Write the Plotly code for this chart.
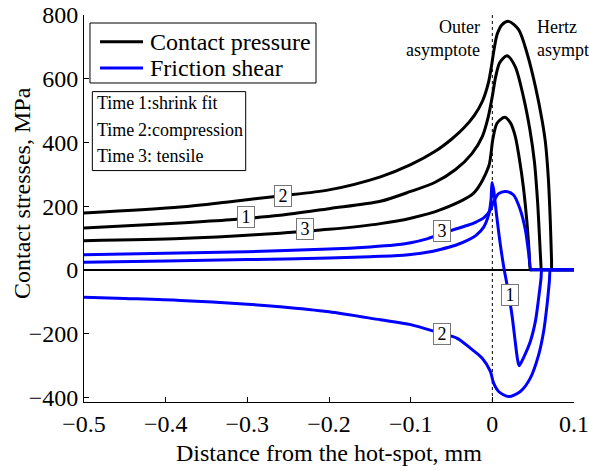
import plotly.graph_objects as go

# ---------------- data ----------------
# Contact pressure (black), MPa
cp2_x = [-0.5, -0.382, -0.321, -0.26, -0.2, -0.137, -0.1, -0.07, -0.05, -0.035, -0.022, -0.012,
         -0.005, -0.001, 0.002, 0.006, 0.012, 0.020, 0.0322, 0.0425, 0.0527, 0.0608, 0.065, 0.0685,
         0.071, 0.0725, 0.073, 0.074, 0.1]
cp2_y = [178, 197, 214, 232, 251, 292, 330, 372, 410, 445, 485, 530,
         585, 640, 690, 740, 770, 780, 754, 680, 576, 471, 400, 290,
         150, 30, 0, 0, 0]

cp1_x = [-0.5, -0.382, -0.321, -0.26, -0.2, -0.137, -0.1, -0.07, -0.045, -0.025, -0.012, -0.005,
         0.0, 0.004, 0.009, 0.018, 0.028, 0.038, 0.046, 0.0515, 0.0555, 0.058, 0.0595, 0.060, 0.061, 0.1]
cp1_y = [131, 147, 157, 171, 192, 215, 246, 275, 315, 365, 420, 480,
         545, 605, 650, 672, 638, 544, 440, 340, 210, 90, 15, 0, 0, 0]

cp3_x = [-0.5, -0.382, -0.321, -0.26, -0.2, -0.137, -0.1, -0.064, -0.0229, -0.0045, 0.0005, 0.0057,
         0.0151, 0.022, 0.028, 0.033, 0.038, 0.042, 0.045, 0.0465, 0.0475, 0.1]
cp3_y = [91, 98, 105, 115, 127, 145, 162, 188, 241, 324, 408, 460,
         479, 462, 420, 350, 260, 160, 60, 0, 0, 0]

# Friction shear (blue), MPa
fs3_x = [-0.5, -0.4, -0.3, -0.2, -0.15, -0.12, -0.1, -0.08, -0.0637, -0.045, -0.03, -0.02,
         -0.0106, -0.0024, 0.0016, 0.0077, 0.016, 0.026, 0.0343, 0.0404, 0.0445, 0.0474, 0.0485, 0.1]
fs3_y = [47, 52, 57, 65, 72, 78, 85, 97, 112, 128, 140, 150,
         163, 188, 214, 239, 246, 235, 188, 126, 52, 0, 0, 0]

fs1_x = [-0.5, -0.4, -0.3, -0.2, -0.15, -0.12, -0.1, -0.08, -0.0637, -0.045, -0.03, -0.02,
         -0.0106, -0.0045, -0.0016, -0.0004, 0.0016, 0.0049, 0.009, 0.0139, 0.018, 0.024, 0.028,
         0.031, 0.033, 0.038, 0.0465, 0.0527, 0.0567, 0.0596, 0.0605, 0.0615, 0.1]
fs1_y = [24, 28, 32, 37, 41, 44, 48, 55, 64, 77, 93, 108,
         134, 173, 220, 274, 251, 178, 94, 10, -47, -141, -225,
         -283, -301, -277, -225, -162, -89, -27, 0, 0, 0]

fs2_x = [-0.5, -0.45, -0.382, -0.3, -0.26, -0.2, -0.137, -0.1, -0.0637, -0.043, -0.027, -0.0126,
         -0.0024, 0.0016, 0.0077, 0.020, 0.0343, 0.0465, 0.0567, 0.0628, 0.067, 0.0698, 0.071, 0.072, 0.1]
fs2_y = [-86, -90, -96, -108, -116, -132, -157, -172, -199, -215, -246, -277,
         -319, -356, -382, -398, -382, -340, -267, -194, -110, -37, 0, 0, 0]

# curve labels
label_text = ["2", "1", "3", "3", "1", "2"]
label_x = [-0.256, -0.302, -0.230, -0.0616, 0.022, -0.0616]
label_y = [232, 167, 128, 122, -78, -201]

x_ticks = [-0.5, -0.4, -0.3, -0.2, -0.1, 0, 0.1]
x_ticktext = ["\u22120.5", "\u22120.4", "\u22120.3", "\u22120.2", "\u22120.1", "0", "0.1"]
y_ticks = [-400, -200, 0, 200, 400, 600, 800]
y_ticktext = ["\u2212400", "\u2212200", "0", "200", "400", "600", "800"]

legend_names = ["Contact pressure", "Friction shear"]
time_labels = ["Time\u20091:shrink fit", "Time\u20092:compression", "Time\u20093: tensile"]
x_title = "Distance from the hot-spot, mm"
y_title = "Contact stresses, MPa"

# ---------------- figure ----------------
FONT = "Liberation Serif"
BLACK = "#000000"
BLUE = "#0000ff"

fig = go.Figure()

series = [
    (cp2_x, cp2_y, BLACK), (cp1_x, cp1_y, BLACK), (cp3_x, cp3_y, BLACK),
    (fs3_x, fs3_y, BLUE), (fs1_x, fs1_y, BLUE), (fs2_x, fs2_y, BLUE),
]
for i, (xs, ys, col) in enumerate(series):
    fig.add_trace(go.Scatter(
        x=xs, y=ys, mode="lines", name=legend_names[0 if i < 3 else 1], showlegend=False,
        line=dict(color=col, width=3, shape="spline", smoothing=0.8),
    ))

# dotted vertical line at the hot-spot
fig.add_shape(type="line", xref="x", yref="paper", x0=0, x1=0, y0=0, y1=1,
              line=dict(color=BLACK, width=1, dash="dot"), layer="below")

# curve number labels
for t, lx, ly in zip(label_text, label_x, label_y):
    fig.add_annotation(x=lx, y=ly, text="\u2009" + t + "\u2009", showarrow=False,
                       font=dict(family=FONT, size=18, color=BLACK),
                       bgcolor="white", bordercolor="#777777", borderwidth=1, borderpad=0)

# asymptote captions
fig.add_annotation(x=0, y=0.939, xref="x", yref="paper", text="Outer<br>asymptote",
                   showarrow=False, xanchor="right", yanchor="middle", align="right", xshift=-10,
                   font=dict(family=FONT, size=18, color=BLACK))
fig.add_annotation(x=0, y=0.939, xref="x", yref="paper", text="Hertz<br>asympt",
                   showarrow=False, xanchor="left", yanchor="middle", align="left", xshift=43,
                   font=dict(family=FONT, size=18, color=BLACK))

# legend box (drawn by hand for the tight MATLAB-like row spacing)
fig.add_shape(type="rect", xref="paper", yref="paper", x0=0.0122, x1=0.4735, y0=0.8243, y1=0.9793,
              line=dict(color=BLACK, width=1), fillcolor="white")
for i, (name, col) in enumerate(zip(legend_names, [BLACK, BLUE])):
    yy = [0.931, 0.863][i]
    fig.add_shape(type="line", xref="paper", yref="paper", x0=0.0327, x1=0.1204, y0=yy, y1=yy,
                  line=dict(color=col, width=3))
    fig.add_annotation(x=0.1306, y=yy, xref="paper", yref="paper", text=name, showarrow=False,
                       xanchor="left", yanchor="middle", font=dict(family=FONT, size=24, color=BLACK))

# Time box
fig.add_shape(type="rect", xref="paper", yref="paper", x0=0.017, x1=0.330, y0=0.598, y1=0.802,
              line=dict(color=BLACK, width=1), fillcolor="white")
for i, t in enumerate(time_labels):
    fig.add_annotation(x=0.022, y=[0.772, 0.702, 0.635][i], xref="paper", yref="paper", text=t,
                       showarrow=False, xanchor="left", yanchor="middle",
                       font=dict(family=FONT, size=18, color=BLACK))

# y-axis title placed like the reference (slightly above the axis centre)
fig.add_annotation(x=-0.1265, y=0.54, xref="paper", yref="paper", text=y_title, textangle=-90,
                   showarrow=False, xanchor="center", yanchor="middle",
                   font=dict(family=FONT, size=24, color=BLACK))

fig.update_layout(
    width=589, height=471,
    margin=dict(l=84, r=15, t=15, b=69),
    paper_bgcolor="white", plot_bgcolor="white",
    font=dict(family=FONT, size=24, color=BLACK),
    showlegend=False,
    xaxis=dict(range=[-0.5, 0.1], tickvals=x_ticks, ticktext=x_ticktext, automargin=False,
               tickfont=dict(family=FONT, size=24, color=BLACK),
               ticks="inside", ticklen=5, tickcolor=BLACK, showline=True, linecolor=BLACK,
               linewidth=1, mirror=False, showgrid=False, zeroline=False,
               title=dict(text=x_title, standoff=8,
                          font=dict(family=FONT, size=24, color=BLACK))),
    yaxis=dict(range=[-415, 800], tickvals=y_ticks, ticktext=y_ticktext, automargin=False,
               tickfont=dict(family=FONT, size=24, color=BLACK),
               ticks="inside", ticklen=5, tickcolor=BLACK, showline=True, linecolor=BLACK,
               linewidth=1, mirror=False, showgrid=False,
               zeroline=True, zerolinecolor=BLACK, zerolinewidth=1.5),
)

fig.write_html("out.html", config={"displayModeBar": False},
               post_script="document.body.style.margin='0';")
